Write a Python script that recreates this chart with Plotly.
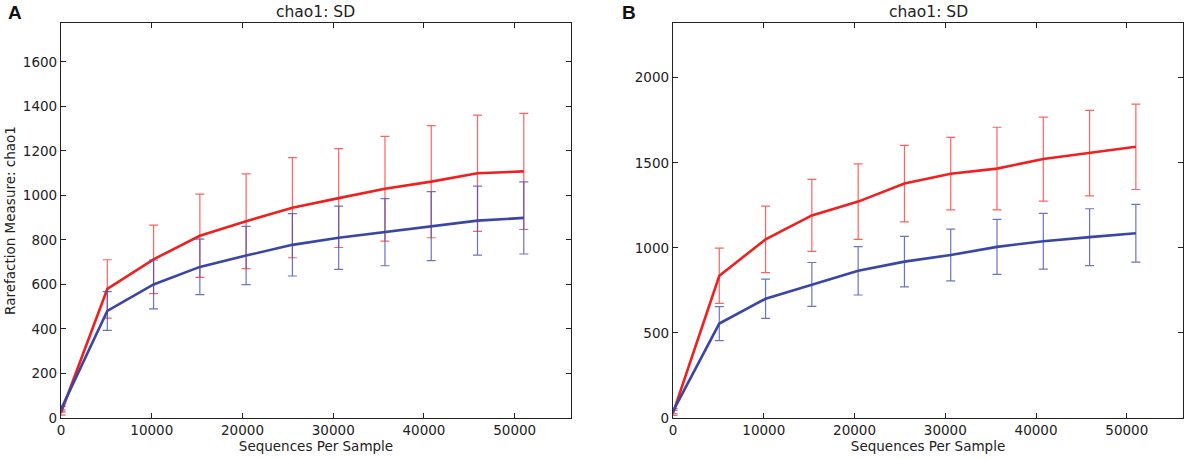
import plotly.graph_objects as go

# sequences per sample (rarefaction depths)
depths = [10, 5100, 10200, 15300, 20400, 25500, 30600, 35700, 40800, 45900, 51000]

# panel A
a_red_mean = [25, 580, 713, 819, 884, 945, 988, 1030, 1062, 1100, 1108]
a_red_sd = [12, 131, 154, 187, 213, 225, 222, 235, 252, 261, 261]
a_blue_mean = [40, 481, 600, 679, 730, 778, 810, 835, 862, 887, 899]
a_blue_sd = [12, 87, 110, 125, 131, 140, 142, 151, 155, 155, 162]

# panel B
b_red_mean = [30, 836, 1050, 1191, 1272, 1378, 1436, 1466, 1522, 1557, 1594]
b_red_sd = [15, 162, 195, 212, 222, 225, 213, 243, 247, 251, 251]
b_blue_mean = [40, 555, 701, 785, 865, 919, 958, 1006, 1039, 1063, 1086]
b_blue_sd = [15, 100, 115, 129, 142, 148, 152, 162, 164, 167, 170]

x_ticks = [0, 10000, 20000, 30000, 40000, 50000]
a_y_ticks = [0, 200, 400, 600, 800, 1000, 1200, 1400, 1600]
b_y_ticks = [0, 500, 1000, 1500, 2000]

RED = "#ee2020"
BLUE = "#3a46a6"
RED_ERR = "rgba(255,70,70,0.85)"
BLUE_ERR = "rgba(70,80,180,0.8)"
FONT = "DejaVu Sans"

fig = go.Figure()


def add_series(xa, ya, mean, sd, color, err_color):
	fig.add_trace(go.Scatter(
		x=depths, y=mean, mode="lines",
		line=dict(color=color, width=2.6),
		error_y=dict(type="data", array=sd, color=err_color, thickness=1.2, width=4.5),
		xaxis=xa, yaxis=ya, showlegend=False,
	))


add_series("x", "y", a_red_mean, a_red_sd, RED, RED_ERR)
add_series("x", "y", a_blue_mean, a_blue_sd, BLUE, BLUE_ERR)
add_series("x2", "y2", b_red_mean, b_red_sd, RED, RED_ERR)
add_series("x2", "y2", b_blue_mean, b_blue_sd, BLUE, BLUE_ERR)

axis_style = dict(
	showline=True, linecolor="#222", linewidth=1.3, mirror="ticks",
	ticks="inside", ticklen=5, tickcolor="#222", tickwidth=1,
	showgrid=False, zeroline=False, automargin=False,
	tickfont=dict(family=FONT, size=13.5, color="#222"),
)
title_font = dict(family=FONT, size=13.5, color="#222")

fig.update_layout(
	width=1192, height=459,
	margin=dict(l=0, r=0, t=0, b=0),
	paper_bgcolor="white", plot_bgcolor="white",
	xaxis=dict(domain=[0.0512, 0.479], range=[0, 56200], tickvals=x_ticks,
		ticktext=[str(v) for v in x_ticks],
		title=dict(text="Sequences Per Sample", font=title_font, standoff=2),
		anchor="y", **axis_style),
	yaxis=dict(domain=[0.0893, 0.95], range=[0, 1775], tickvals=a_y_ticks,
		ticktext=[str(v) for v in a_y_ticks],
		title=dict(text="Rarefaction Measure: chao1", font=title_font, standoff=4),
		anchor="x", **axis_style),
	xaxis2=dict(domain=[0.5646, 0.9925], range=[0, 56200], tickvals=x_ticks,
		ticktext=[str(v) for v in x_ticks],
		title=dict(text="Sequences Per Sample", font=title_font, standoff=2),
		anchor="y2", **axis_style),
	yaxis2=dict(domain=[0.0893, 0.95], range=[0, 2322], tickvals=b_y_ticks,
		ticktext=[str(v) for v in b_y_ticks],
		anchor="x2", **axis_style),
)

for cx, label, lx in [(0.265, "A", 0.005), (0.7786, "B", 0.52)]:
	fig.add_annotation(text="chao1: SD", x=cx, y=1.0, xref="paper", yref="paper",
		xanchor="center", yanchor="top", yshift=-1, showarrow=False,
		font=dict(family=FONT, size=15.5, color="#222"))
	fig.add_annotation(text="<b>" + label + "</b>", x=lx, y=1.0, xref="paper", yref="paper",
		xanchor="left", yanchor="top", yshift=0, showarrow=False,
		font=dict(family="Liberation Sans", size=19, color="#111"))

# drop the browser's default page margin so the figure sits at the window origin
fig.write_html("out.html", config={"displayModeBar": False},
	post_script="document.body.style.margin='0';")
